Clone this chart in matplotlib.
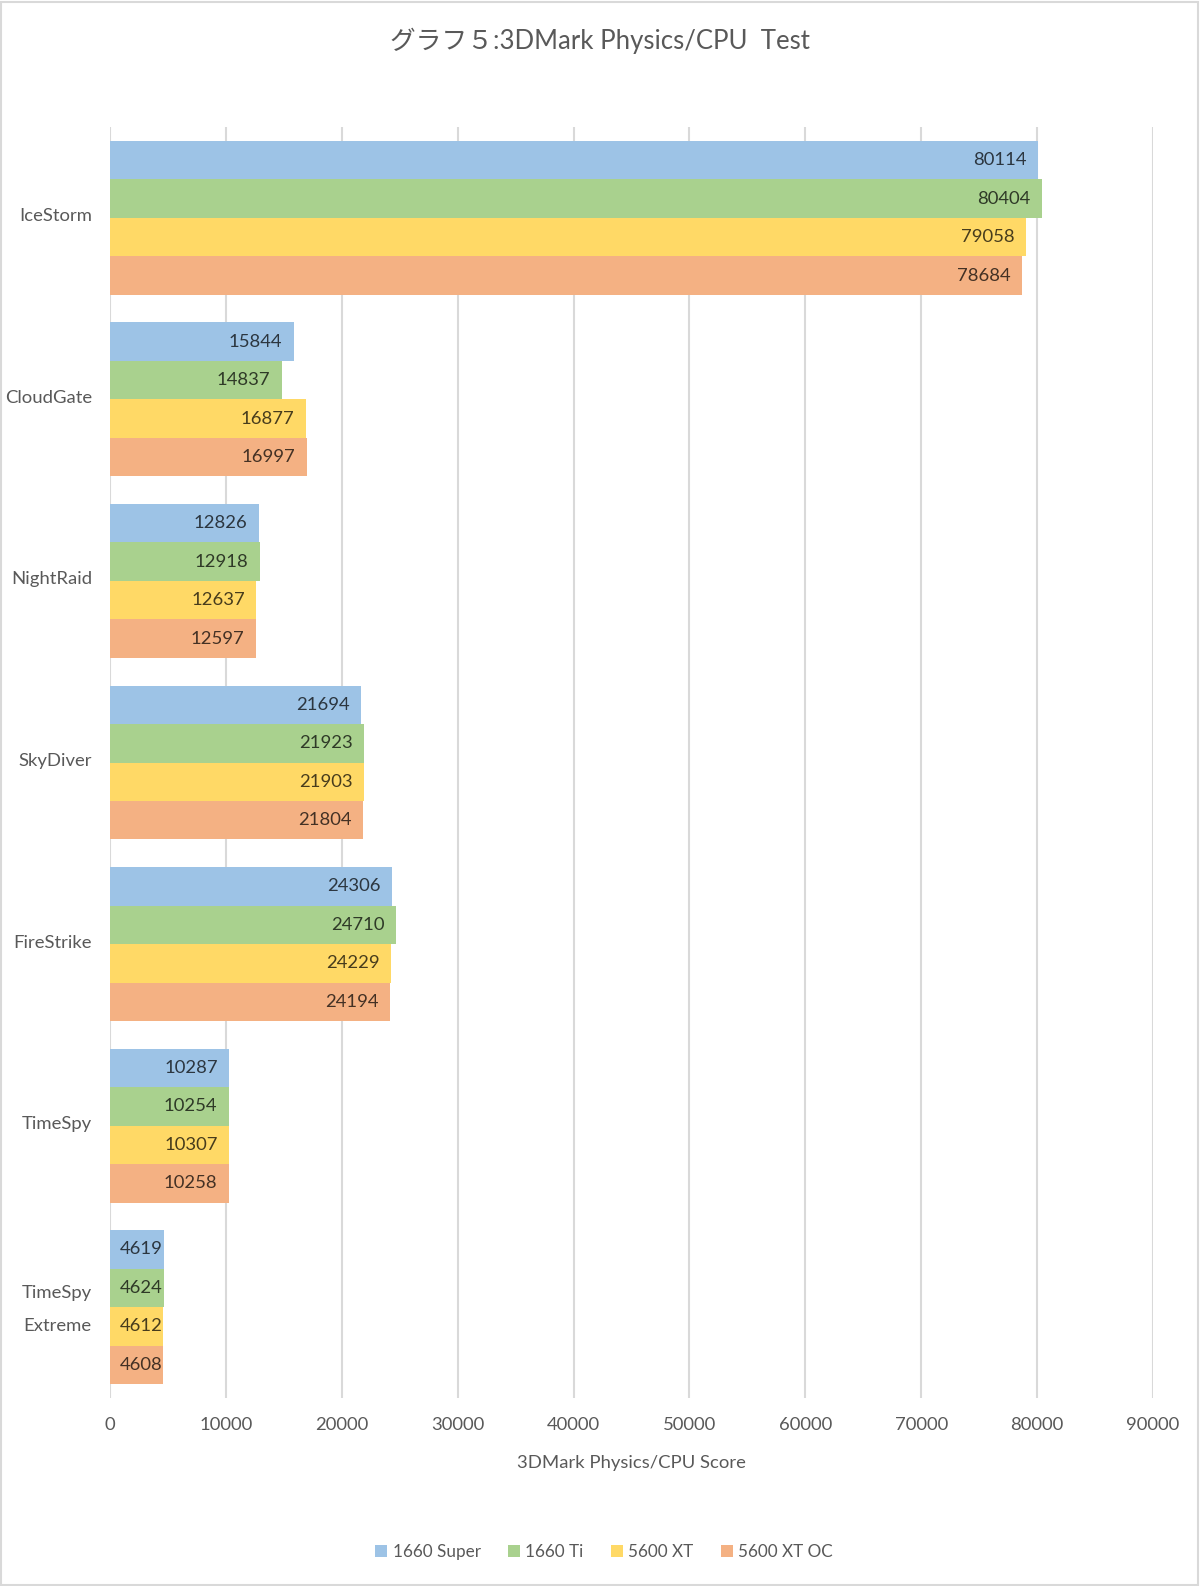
import matplotlib
matplotlib.use("Agg")
import matplotlib.pyplot as plt
from matplotlib.patches import Rectangle
import matplotlib.transforms as mtransforms
import numpy as np

plt.rcParams['font.family'] = ['Lato', 'Noto Sans CJK JP', 'DejaVu Sans']

categories = ["IceStorm", "CloudGate", "NightRaid", "SkyDiver", "FireStrike", "TimeSpy", "TimeSpy\nExtreme"]
series_names = ["1660 Super", "1660 Ti", "5600 XT", "5600 XT OC"]
s_1660_super = [80114, 15844, 12826, 21694, 24306, 10287, 4619]
s_1660_ti = [80404, 14837, 12918, 21923, 24710, 10254, 4624]
s_5600_xt = [79058, 16877, 12637, 21903, 24229, 10307, 4612]
s_5600_xt_oc = [78684, 16997, 12597, 21804, 24194, 10258, 4608]
xticks = [0, 10000, 20000, 30000, 40000, 50000, 60000, 70000, 80000, 90000]
title = "グラフ５:3DMark Physics/CPU  Test"
xlabel = "3DMark Physics/CPU Score"

colors = ["#9DC3E6", "#A9D18E", "#FFD966", "#F4B183"]
all_series = [s_1660_super, s_1660_ti, s_5600_xt, s_5600_xt_oc]

W, H = 1200, 1586
fig = plt.figure(figsize=(W / 100, H / 100), dpi=100)
ax = fig.add_axes([110 / W, 1 - 1398 / H, (1153 - 110) / W, (1398 - 127) / H])

fs = 13.3
n = len(all_series)
group = 0.848
bh = group / n
y = np.arange(len(categories))
text_col = "#595959"
for i, (vals, c, name) in enumerate(zip(all_series, colors, series_names)):
    pos = y + (i - (n - 1) / 2) * bh
    bars = ax.barh(pos, vals, height=bh, color=c, label=name, zorder=2, linewidth=0)
    for b, v in zip(bars, vals):
        off = -11.5 if v > 8000 else -1
        ax.annotate(str(v), xy=(v, b.get_y() + b.get_height() / 2), xytext=(off * 0.72, 0),
                    textcoords="offset points", ha="right", va="center",
                    fontsize=fs, color="black", alpha=0.72, zorder=3)

ax.set_xlim(0, 90000)
ax.set_ylim(len(categories) - 0.5, -0.5)
ax.set_xticks(xticks)
ax.set_xticklabels([str(t) for t in xticks])
ax.set_yticks(y)
ax.set_yticklabels(categories, linespacing=2.3, ha="right", multialignment="center")
ax.tick_params(axis="y", length=0, pad=13, labelsize=fs, labelcolor=text_col)
ax.tick_params(axis="x", length=0, pad=14, labelsize=fs, labelcolor=text_col)
shift = mtransforms.ScaledTranslation(0, 3 / 100, fig.dpi_scale_trans)
for lab in ax.get_yticklabels():
    lab.set_transform(lab.get_transform() + shift)
ax.get_yticklabels()[-1].set_transform(ax.get_yticklabels()[-1].get_transform()
                                      + mtransforms.ScaledTranslation(0, 5 / 100, fig.dpi_scale_trans))
ax.xaxis.grid(True, color="#D9D9D9", linewidth=1.5, zorder=0)
ax.set_axisbelow(True)
for s in ax.spines.values():
    s.set_visible(False)

fig.text(0.5, 1 - 41 / H, title, ha="center", va="center", fontsize=18.5, color=text_col)
fig.text((110 + 1153) / 2 / W, 1 - 1463 / H, xlabel, ha="center", va="center", fontsize=fs, color=text_col)

leg = fig.legend(loc="center", bbox_to_anchor=(604 / W, 1 - 1552 / H), ncol=4, frameon=False,
                 fontsize=12.3, handlelength=0.72, handleheight=0.72, handletextpad=0.3,
                 columnspacing=1.6, labelcolor=text_col)

fig.patches.append(Rectangle((1 / W, 1 / H), 1 - 3 / W, 1 - 3 / H, transform=fig.transFigure,
                             fill=False, edgecolor="#D9D9D9", linewidth=1.5))

fig.savefig("out.png", dpi=100, facecolor="white")
